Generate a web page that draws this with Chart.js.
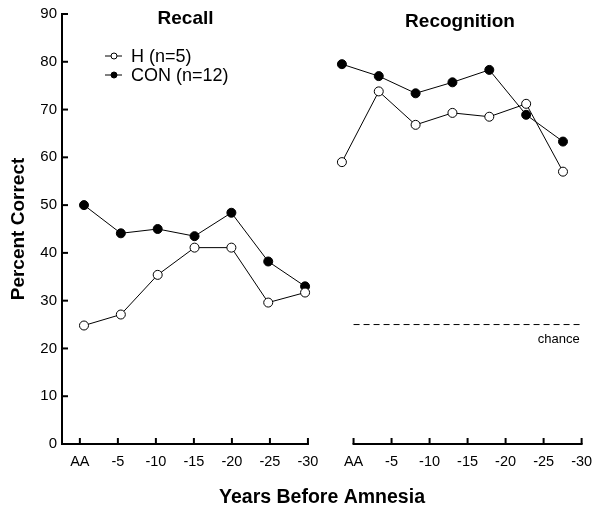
<!DOCTYPE html>
<html>
<head>
<meta charset="utf-8">
<script src="https://cdn.jsdelivr.net/npm/chart.js@4.4.0/dist/chart.umd.min.js"></script>
<style>
  html, body { margin: 0; padding: 0; background: #fff; }
</style>
</head>
<body>
<canvas id="myChart" width="595" height="513"></canvas>
<script>
const years = ["AA", "-5", "-10", "-15", "-20", "-25", "-30"];
const yTicks = [0, 10, 20, 30, 40, 50, 60, 70, 80, 90];
const seriesNames = ["H (n=5)", "CON (n=12)"];
const panelTitles = ["Recall", "Recognition"];

const recallH = [24.8, 27.1, 35.4, 41.1, 41.1, 29.6, 31.7];
const recallCON = [50.0, 44.1, 45.0, 43.5, 48.4, 38.2, 33.0];
const recogH = [59.0, 73.8, 66.8, 69.3, 68.5, 71.2, 57.0];
const recogCON = [79.5, 77.0, 73.4, 75.7, 78.3, 68.9, 63.3];
const chanceLevel = 25;

const FONT = "'Liberation Sans', Arial, sans-serif";
Chart.defaults.font.family = FONT;
Chart.defaults.color = "#000";

// recognition panel: points start at index 7, its tick labels at 7.2
const recogStart = 7;
const recogTickStart = 7.2;

function toPoints(values, start) {
  return values.map((v, i) => ({ x: start + i, y: v }));
}

function lineSet(label, values, start, filled) {
  return {
    label,
    data: toPoints(values, start),
    xAxisID: "xp",
    borderColor: "#000",
    borderWidth: 1,
    pointRadius: 4.5,
    pointHoverRadius: 4.5,
    pointBorderWidth: 1,
    pointBorderColor: "#000",
    pointBackgroundColor: filled ? "#000" : "#fff",
    tension: 0,
  };
}

const framePlugin = {
  id: "frame",
  afterDraw(chart) {
    const { ctx, chartArea } = chart;
    const x = chart.scales.x, y = chart.scales.y;
    const y0 = y.getPixelForValue(0);
    const left = chartArea.left;
    ctx.save();
    ctx.strokeStyle = "#000";
    ctx.lineWidth = 2;

    // y axis with inward ticks
    ctx.beginPath();
    ctx.moveTo(left, y0 + 1);
    ctx.lineTo(left, y.getPixelForValue(90) - 1);
    ctx.stroke();
    yTicks.forEach((v) => {
      const py = y.getPixelForValue(v);
      ctx.beginPath();
      ctx.moveTo(left, py);
      ctx.lineTo(left + 6, py);
      ctx.stroke();
    });

    // broken x axis, ticks pointing up
    const segments = [[0, left - 1], [recogTickStart, null]];
    segments.forEach(([start, from]) => {
      const x1 = from !== null ? from : x.getPixelForValue(start) - 1;
      const x2 = x.getPixelForValue(start + 6) + 1;
      ctx.beginPath();
      ctx.moveTo(x1, y0);
      ctx.lineTo(x2, y0);
      ctx.stroke();
      years.forEach((_, i) => {
        const px = x.getPixelForValue(start + i);
        ctx.beginPath();
        ctx.moveTo(px, y0);
        ctx.lineTo(px, y0 - 6);
        ctx.stroke();
      });
    });

    // panel titles
    ctx.fillStyle = "#000";
    ctx.font = "bold 19px " + FONT;
    ctx.textAlign = "center";
    ctx.textBaseline = "middle";
    ctx.fillText(panelTitles[0], x.getPixelForValue(2.78), 19);
    ctx.fillText(panelTitles[1], x.getPixelForValue(10), 22);

    // chance label
    ctx.font = "13px " + FONT;
    ctx.textAlign = "right";
    ctx.fillText("chance", x.getPixelForValue(13.2) - 2, y.getPixelForValue(chanceLevel) + 15);

    // legend
    ctx.font = "18px " + FONT;
    ctx.textAlign = "left";
    ctx.lineWidth = 1;
    [[56, false], [75, true]].forEach(([ly, filled], i) => {
      ctx.beginPath();
      ctx.moveTo(left + 43, ly);
      ctx.lineTo(left + 60, ly);
      ctx.stroke();
      ctx.beginPath();
      ctx.arc(left + 52, ly, 3, 0, Math.PI * 2);
      ctx.fillStyle = filled ? "#000" : "#fff";
      ctx.fill();
      ctx.stroke();
      ctx.fillStyle = "#000";
      ctx.fillText(seriesNames[i], left + 69, ly + 1);
    });
    ctx.restore();
  },
};

new Chart(document.getElementById("myChart"), {
  type: "line",
  data: {
    datasets: [
      lineSet(seriesNames[0], recallH, 0, false),
      lineSet(seriesNames[1], recallCON, 0, true),
      lineSet(seriesNames[1], recogCON, recogStart, true),
      lineSet(seriesNames[0], recogH, recogStart, false),
      {
        label: "chance",
        data: [
          { x: recogTickStart, y: chanceLevel },
          { x: recogTickStart + 6, y: chanceLevel },
        ],
        xAxisID: "x",
        borderColor: "#000",
        borderWidth: 1,
        borderDash: [6, 4],
        pointRadius: 0,
      },
    ],
  },
  options: {
    responsive: false,
    animation: false,
    layout: { padding: { left: 0, top: 12, right: 13, bottom: 0 } },
    plugins: { legend: { display: false }, tooltip: { enabled: false } },
    scales: {
      x: {
        type: "linear",
        min: -0.47,
        max: 13.21,
        grid: { display: false, drawTicks: false, tickLength: 0 },
        border: { display: false },
        afterBuildTicks: (scale) => {
          scale.ticks = [
            ...years.map((_, i) => ({ value: i })),
            ...years.map((_, i) => ({ value: recogTickStart + i })),
          ];
        },
        afterFit: (scale) => {
          scale.height = 69;
          scale.paddingLeft = 0;
          scale.paddingRight = 0;
        },
        ticks: {
          autoSkip: false,
          maxRotation: 0,
          padding: 9,
          font: { size: 14.5 },
          callback: (value, index) => years[index % years.length],
        },
        title: {
          display: true,
          text: "Years Before Amnesia",
          font: { size: 19.5, weight: "bold" },
          padding: { top: 0, bottom: 4 },
        },
      },
      xp: {
        type: "linear",
        display: false,
        min: -0.597,
        max: 13.516,
      },
      y: {
        min: 0,
        max: 90,
        grid: { display: false, drawTicks: false, tickLength: 0 },
        border: { display: false },
        afterBuildTicks: (scale) => {
          scale.ticks = yTicks.map((v) => ({ value: v }));
        },
        afterFit: (scale) => { scale.width = 62; },
        ticks: { padding: 5, font: { size: 15 } },
        title: {
          display: true,
          text: "Percent Correct",
          font: { size: 19, weight: "bold" },
          padding: { top: 7, bottom: 0 },
        },
      },
    },
  },
  plugins: [framePlugin],
});
</script>
</body>
</html>
